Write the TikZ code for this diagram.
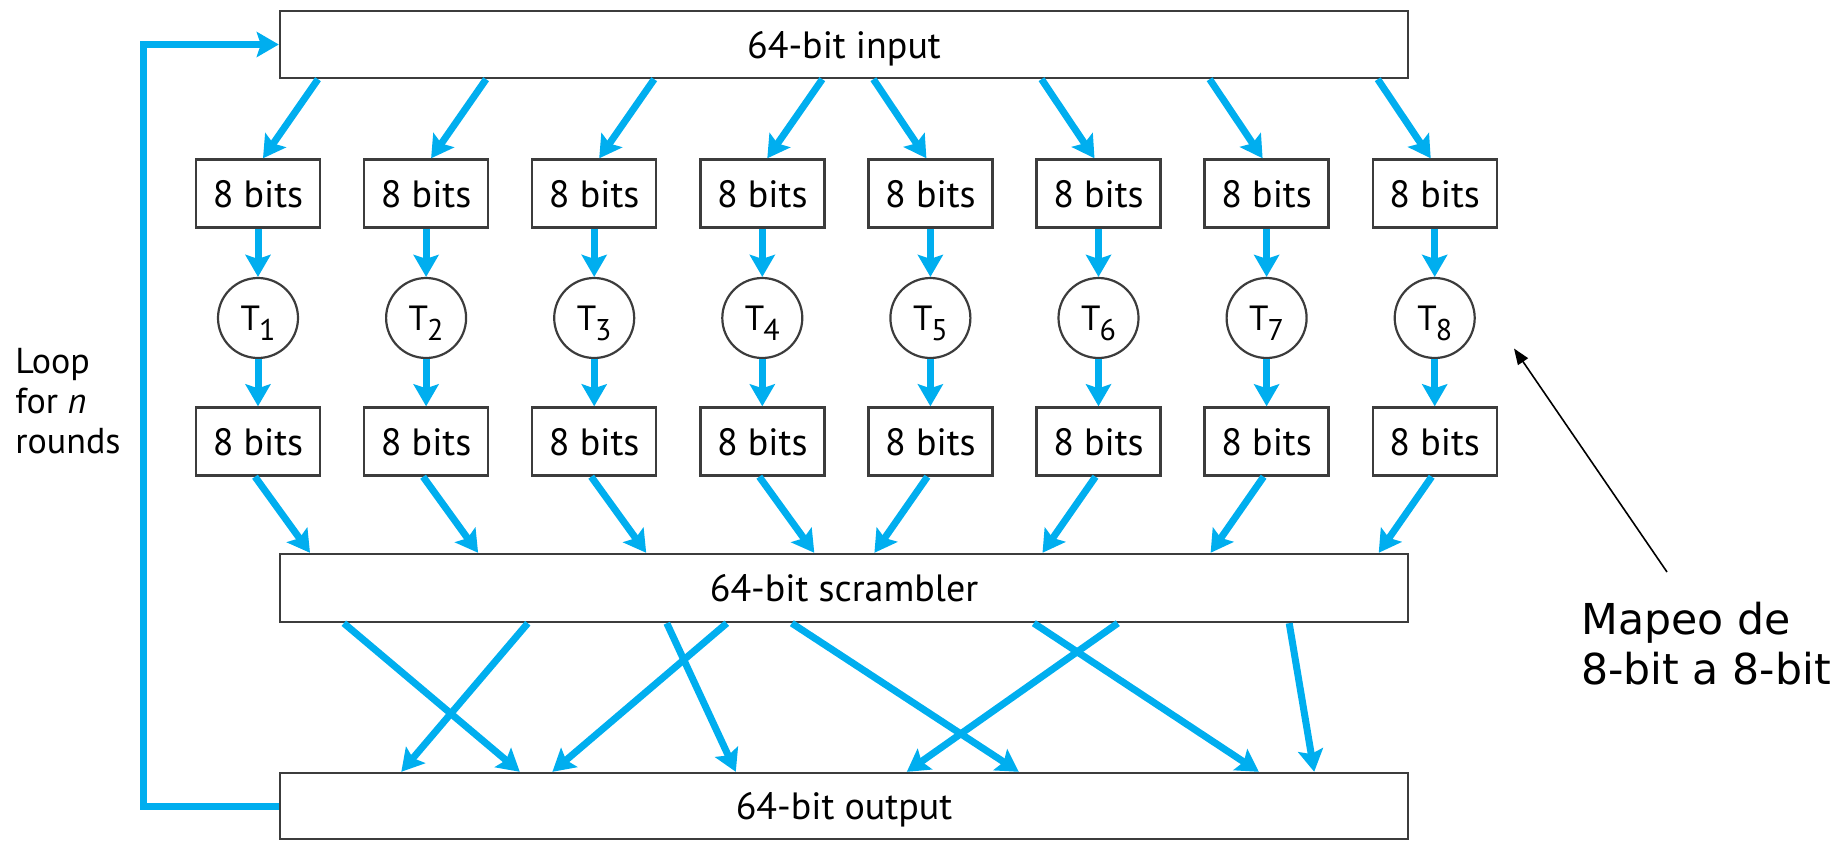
\documentclass[tikz,border=0pt]{standalone}
\usepackage{fontspec}
\setmainfont{PT Sans}
\newfontfamily\annfont{DejaVu Sans}
\usetikzlibrary{arrows.meta,calc}
\definecolor{arrowblue}{HTML}{00AEEF}
\definecolor{boxline}{HTML}{3C3C3C}
\newcommand\tsub[1]{\kern-0.5pt\raisebox{-5pt}{\fontsize{15pt}{15pt}\selectfont #1}}
\begin{document}
\begin{tikzpicture}[x=0.5pt,y=-0.5pt,
  bigbox/.style={draw=boxline, line width=1.2pt, fill=white, minimum width=564pt,
    inner sep=0pt, font=\fontsize{19pt}{22pt}\selectfont, text depth=0pt},
  bitbox/.style={draw=boxline, line width=1.2pt, minimum width=62pt, minimum height=34pt,
    inner sep=0pt, font=\fontsize{19pt}{22pt}\selectfont, text depth=0pt},
  tcirc/.style={draw=boxline, line width=1.1pt, circle, minimum size=40pt, inner sep=0pt,
    font=\fontsize{17.5pt}{20pt}\selectfont, text depth=0pt},
  barrow/.style={draw=arrowblue, line width=3.5pt, -{Stealth[length=11pt,width=12.5pt,inset=2pt]}},
  annarrow/.style={draw=black, line width=0.8pt, -{Triangle[length=8pt,width=6pt]}},
  textlbl/.style={anchor=north west, inner sep=0pt, align=left}
]
\useasboundingbox (0,0) rectangle (1841,841);

% big boxes
\node[bigbox, minimum height=33.5pt] (inp) at (844,44.5) {64-bit input};
\node[bigbox, minimum height=34pt] (scr) at (844,588) {64-bit scrambler};
\node[bigbox, minimum height=33pt] (out) at (844,806) {64-bit output};

% columns
\foreach \i in {1,...,8} {
  \pgfmathsetmacro\xx{258+168.1*(\i-1)}
  \node[bitbox] (b\i) at (\xx,193.5) {8 bits};
  \node[tcirc] (t\i) at (\xx,318) {T\tsub{\i}};
  \node[bitbox] (c\i) at (\xx,441.5) {8 bits};
}

% input -> upper boxes, and vertical arrows
\foreach \i/\s/\e in {1/60/5,2/60/5,3/60/5,4/60/5,5/-57/-4,6/-57/-4,7/-57/-4,8/-57/-4} {
  \draw[barrow] ($(b\i.north |- inp.south)+(\s,0)$) -- ($(b\i.north)+(\e,0)$);
  \draw[barrow] (b\i) -- (t\i);
  \draw[barrow] (t\i) -- (c\i);
}

% lower boxes -> scrambler
\foreach \i/\e in {1/52,2/52,3/52,4/52,5/-56,6/-56,7/-56,8/-56} {
  \draw[barrow] ($(c\i.south)+(-3,0)$) -- ($(c\i.south |- scr.north)+(\e,0)$);
}

% scrambler -> output
\foreach \s/\e in {65/241, 249/122.5, 388/457, 448/273.6, 513/740, 839/628, 755/980, 1010.4/1035.4} {
  \draw[barrow] ($(scr.south west)+(\s,0)$) -- ($(out.north west)+(\e,0)$);
}

% loop back
\draw[barrow] (out.west) -- ++(-135,0) |- (inp.west);
\node[textlbl, font=\fontsize{18pt}{20pt}\selectfont] (loop) at (15,348) {Loop\\for \textit{n}\\rounds};

% annotation
\node[textlbl, font=\annfont\fontsize{21.3pt}{25pt}\selectfont] (ann) at (1581,602) {Mapeo de\\8-bit a 8-bit};
\coordinate (annstart) at (1667,572);
\coordinate (anntip) at (1514,348.5);
\draw[annarrow] (annstart) -- (anntip);
\end{tikzpicture}
\end{document}
